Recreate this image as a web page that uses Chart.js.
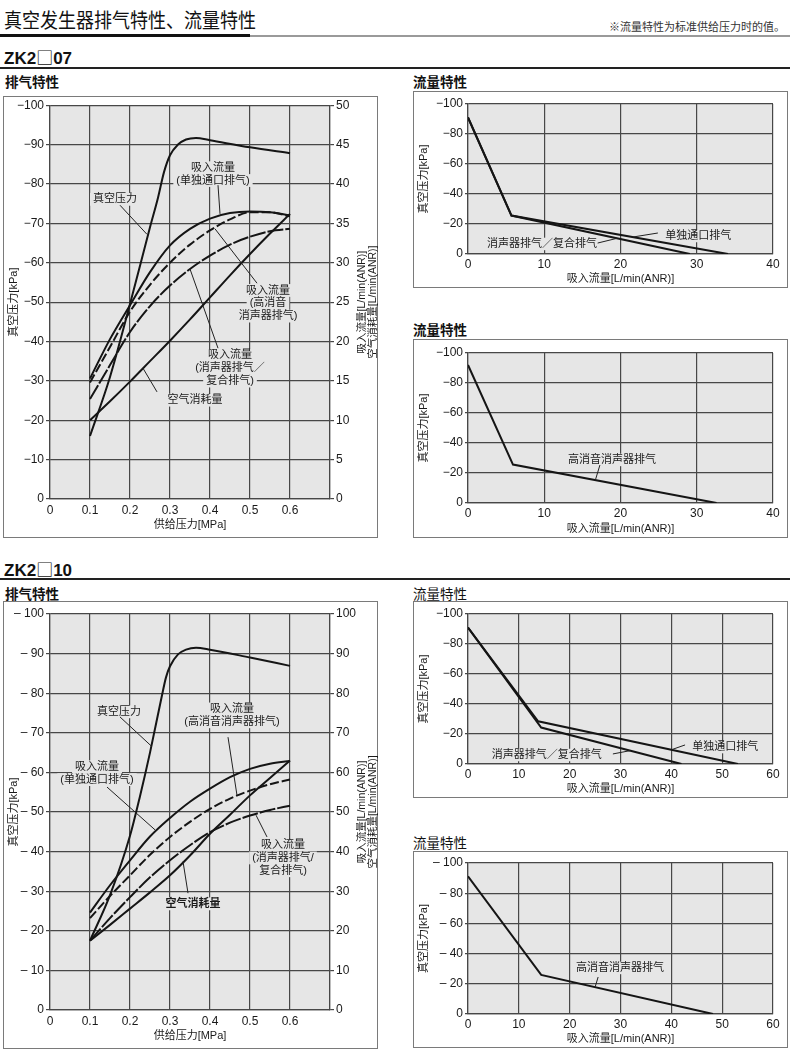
<!DOCTYPE html>
<html><head><meta charset="utf-8">
<script src="https://cdn.jsdelivr.net/npm/chart.js@4.4.1/dist/chart.umd.min.js"></script>
<style>
body{margin:0;width:790px;height:1053px;position:relative;background:#fff;font-family:'Noto Sans CJK SC',sans-serif;overflow:hidden;color:#111}
.t{position:absolute;white-space:nowrap}
.box{position:absolute;border:1px solid #7a7a7a;box-sizing:border-box}
.box canvas{position:absolute;left:-1px;top:-1px}
.sq{font-family:'Noto Sans CJK SC';font-weight:normal;font-size:17px}
</style></head>
<body>
<div class="t" style="left:4px;top:4px;font-size:18px;transform:scale(1,1.12);transform-origin:left top;">真空发生器排气特性、流量特性</div>
<div class="t" style="right:5px;top:18px;font-size:11px;color:#333;">※流量特性为标准供给压力时的值。</div>
<div class="t" style="left:0;top:34px;width:250px;height:3px;background:#111"></div>
<div class="t" style="left:250px;top:35px;width:540px;height:2px;background:#9a9a9a"></div>

<div class="t" style="left:4px;top:44px;font-size:17px;font-weight:bold;font-family:'Liberation Sans','Noto Sans CJK SC';">ZK2<span class="sq">□</span>07</div>
<div class="t" style="left:0;top:67px;width:790px;height:2px;background:#222"></div>
<div class="t" style="left:5px;top:71px;font-size:13.5px;font-weight:bold;">排气特性</div>
<div class="t" style="left:413px;top:71px;font-size:13.5px;font-weight:bold;">流量特性</div>
<div class="t" style="left:413px;top:319px;font-size:13.5px;font-weight:bold;">流量特性</div>

<div class="t" style="left:4px;top:556px;font-size:17px;font-weight:bold;font-family:'Liberation Sans','Noto Sans CJK SC';">ZK2<span class="sq">□</span>10</div>
<div class="t" style="left:0;top:578px;width:790px;height:2px;background:#222"></div>
<div class="t" style="left:5px;top:583px;font-size:13.5px;font-weight:bold;">排气特性</div>
<div class="t" style="left:413px;top:583px;font-size:13.5px;">流量特性</div>
<div class="t" style="left:413px;top:832px;font-size:13.5px;">流量特性</div>

<div class="box" style="left:3px;top:96px;width:375px;height:442px"><canvas id="c1" width="375" height="442"></canvas></div>
<div class="box" style="left:413px;top:91px;width:375px;height:197px"><canvas id="c3" width="375" height="197"></canvas></div>
<div class="box" style="left:413px;top:339px;width:375px;height:199px"><canvas id="c4" width="375" height="199"></canvas></div>
<div class="box" style="left:3px;top:601px;width:375px;height:448px"><canvas id="c2" width="375" height="448"></canvas></div>
<div class="box" style="left:413px;top:601px;width:375px;height:197px"><canvas id="c5" width="375" height="197"></canvas></div>
<div class="box" style="left:413px;top:851px;width:375px;height:197px"><canvas id="c6" width="375" height="197"></canvas></div>

<script>
// ---------- DATA ----------
// supply pressure [MPa] for flow / air consumption curves
const supplyPressure = [0.1, 0.15, 0.2, 0.25, 0.3, 0.35, 0.4, 0.45, 0.5, 0.55, 0.6];

// ZK2□07 exhaust characteristics
const vac07X = [0.1, 0.15, 0.2, 0.25, 0.27, 0.285, 0.3, 0.32, 0.34, 0.365, 0.4, 0.5, 0.6];
const vac07Y = [-16, -31, -49.5, -69, -76.5, -83, -87.3, -90, -91.3, -91.7, -91.1, -89.3, -87.8];
const flowSingle07 = [15.3, 20.3, 24.6, 28.8, 32.2, 34.3, 35.6, 36.3, 36.5, 36.4, 36.0];
const flowHighSil07 = [14.8, 19.3, 23.8, 27.2, 30.0, 32.3, 34.1, 35.5, 36.4, 36.4, 35.9];
const flowSil07 = [12.7, 17.0, 21.2, 24.5, 27.1, 29.2, 30.9, 32.3, 33.3, 34.0, 34.3];
const airCons07 = [10.0, 12.4, 14.9, 17.5, 20.1, 22.8, 25.6, 28.4, 31.1, 33.7, 36.2];

// ZK2□10 exhaust characteristics
const vac10X = [0.1, 0.15, 0.2, 0.225, 0.25, 0.28, 0.29, 0.3, 0.32, 0.34, 0.365, 0.4, 0.5, 0.6];
const vac10Y = [-17.5, -29, -44, -54, -65, -79.5, -84, -86.8, -89.8, -91, -91.5, -91, -89, -86.9];
const flowSingle10 = [24.6, 31.5, 37.8, 43.8, 48.5, 52.6, 55.9, 58.8, 60.9, 62.2, 62.9];
const flowHighSil10 = [23.2, 28.8, 34.0, 39.2, 43.7, 47.5, 50.8, 53.4, 55.4, 57.0, 58.2];
const flowSil10 = [17.5, 23.2, 28.5, 33.5, 37.8, 41.6, 44.9, 47.3, 49.1, 50.5, 51.6];
const airCons10 = [17.5, 21.5, 25.6, 29.7, 34.0, 39.0, 44.5, 49.3, 54.2, 58.6, 63.0];

// flow characteristics (suction flow [L/min(ANR)] vs vacuum [kPa])
const fc07SingleX = [0, 5.7, 34.1];  const fc07SingleY = [-91, -25.6, 0];
const fc07SilX = [0, 5.7, 29.1];     const fc07SilY = [-91, -25.6, 0];
const fc07HighX = [0, 5.9, 32.6];    const fc07HighY = [-92, -25.6, 0];
const fc10SingleX = [0, 13.8, 53.1]; const fc10SingleY = [-91, -28.5, 0];
const fc10SilX = [0, 14.4, 42.0];    const fc10SilY = [-91, -24.3, 0];
const fc10HighX = [0, 14.4, 48.2];   const fc10HighY = [-91.2, -25.9, 0];

// tick ranges
const supplyTicks = [0, 0.1, 0.2, 0.3, 0.4, 0.5, 0.6];
const flowAxis07Max = 40, flowAxis10Max = 60;

// annotation texts
const ann07Texts = [['真空压力'], ['吸入流量', '(单独通口排气)'], ['吸入流量', '(高消音', '消声器排气)'], ['吸入流量', '(消声器排气／', '复合排气)'], ['空气消耗量']];
const ann10Texts = [['真空压力'], ['吸入流量', '(高消音消声器排气)'], ['吸入流量', '(单独通口排气)'], ['吸入流量', '(消声器排气/', '复合排气)'], ['空气消耗量']];
const fc07Texts = [['单独通口排气'], ['消声器排气／复合排气']];
const fcHighTexts = [['高消音消声器排气']];
const rightAxisTitle = ['吸入流量[L/min(ANR)]', '空气消耗量[L/min(ANR)]'];

// ---------- RENDERING ----------
const PLOT_BG = '#e6e6e6', GRID = '#474747', INK = '#151515';
const NUM_FONT = "'Liberation Sans', Arial, sans-serif";
const MIX_FONT = "'Liberation Sans', 'Noto Sans CJK SC', sans-serif";

const pts = (xs, ys) => xs.map((x, i) => ({x, y: ys[i]}));

const bgPlugin = {
  id: 'plotbg',
  beforeDraw(chart) {
    const a = chart.chartArea, ctx = chart.ctx;
    ctx.save(); ctx.fillStyle = PLOT_BG;
    ctx.fillRect(a.left, a.top, a.right - a.left, a.bottom - a.top);
    ctx.restore();
  }
};

function annLayout(chart, it) {
  const xs = chart.scales.x, ys = chart.scales.y;
  return {cx: xs.getPixelForValue(it.at[0]), cy: ys.getPixelForValue(it.at[1])};
}

const annPlugin = {
  id: 'ann',
  beforeDatasetsDraw(chart, args, opts) {
    const ctx = chart.ctx; ctx.save();
    (opts.items || []).forEach(it => {
      const {cx, cy} = annLayout(chart, it);
      ctx.font = (it.bold ? 'bold ' : '') + (opts.size || 11) + 'px ' + MIX_FONT;
      const lh = opts.lh || 12.5;
      const n = it.text.length;
      it.text.forEach((t, i) => {
        const w = ctx.measureText(t).width;
        const y = cy + (i - (n - 1) / 2) * lh;
        ctx.fillStyle = PLOT_BG;
        ctx.fillRect(cx - w / 2 - 3, y - lh / 2, w + 6, lh);
      });
    });
    ctx.restore();
  },
  afterDatasetsDraw(chart, args, opts) {
    const ctx = chart.ctx, xs = chart.scales.x, ys = chart.scales.y; ctx.save();
    (opts.items || []).forEach(it => {
      if (it.lead) {
        ctx.strokeStyle = '#222'; ctx.lineWidth = 1;
        ctx.beginPath();
        ctx.moveTo(xs.getPixelForValue(it.lead[0]), ys.getPixelForValue(it.lead[1]));
        ctx.lineTo(xs.getPixelForValue(it.lead[2]), ys.getPixelForValue(it.lead[3]));
        ctx.stroke();
      }
      const {cx, cy} = annLayout(chart, it);
      ctx.font = (it.bold ? 'bold ' : '') + (opts.size || 11) + 'px ' + MIX_FONT;
      ctx.fillStyle = '#1a1a1a'; ctx.textAlign = 'center'; ctx.textBaseline = 'middle';
      const lh = opts.lh || 12.5, n = it.text.length;
      it.text.forEach((t, i) => ctx.fillText(t, cx, cy + (i - (n - 1) / 2) * lh));
    });
    if (opts.rightTitle) {
      const a = chart.chartArea;
      ctx.font = '10.5px ' + MIX_FONT; ctx.fillStyle = '#1a1a1a';
      ctx.textAlign = 'center'; ctx.textBaseline = 'middle';
      opts.rightTitle.forEach((t, i) => {
        ctx.save();
        ctx.translate(a.right + 32 + i * 11.5, (a.top + a.bottom) / 2);
        ctx.rotate(-Math.PI / 2);
        ctx.fillText(t, 0, 0);
        ctx.restore();
      });
    }
    ctx.restore();
  }
};

function curve(data, axis, dash) {
  return {data, yAxisID: axis, borderColor: INK, borderWidth: 2, pointRadius: 0,
          borderDash: dash || [], cubicInterpolationMode: 'monotone', fill: false};
}
function poly(data) {
  return {data, yAxisID: 'y', borderColor: INK, borderWidth: 2, pointRadius: 0, tension: 0, fill: false};
}

function exhaustChart(id, vacData, flows, flowMax, flowStep, leftPrefix, top, annItems) {
  new Chart(document.getElementById(id), {
    type: 'line',
    data: {datasets: [
      curve(vacData, 'y'),
      curve(flows[0], 'y2'),
      curve(flows[1], 'y2', [9, 3]),
      curve(flows[2], 'y2', [16, 2]),
      curve(flows[3], 'y2')
    ]},
    options: {
      responsive: false, animation: false, devicePixelRatio: 1,
      layout: {padding: {top: top, right: 0, left: 0, bottom: 0}},
      plugins: {legend: {display: false}, tooltip: {enabled: false},
        ann: {items: annItems, size: 11, lh: 12.8, rightTitle: rightAxisTitle}},
      scales: {
        x: {type: 'linear', min: 0, max: 0.7,
          afterBuildTicks: s => { s.ticks = supplyTicks.concat([0.7]).map(v => ({value: v})); },
          afterFit: s => { s.height = 39; },
          grid: {color: GRID, lineWidth: 1.2, drawTicks: false},
          border: {color: GRID, width: 1.2},
          ticks: {padding: 4, autoSkip: false, maxRotation: 0, color: '#1a1a1a',
            font: {family: NUM_FONT, size: 12},
            callback: v => (Math.abs(v - 0.7) < 1e-6 ? '' : (v === 0 ? '0' : v.toFixed(1)))},
          title: {display: true, text: '供给压力[MPa]', color: '#1a1a1a',
            font: {family: MIX_FONT, size: 11}, padding: {top: 0, bottom: 6}}
        },
        y: {type: 'linear', position: 'left', min: -100, max: 0, reverse: true,
          afterFit: s => { s.width = 47; },
          grid: {color: GRID, lineWidth: 1.2, tickLength: 4},
          border: {color: GRID, width: 1.2},
          ticks: {stepSize: 10, padding: 2, color: '#1a1a1a', font: {family: NUM_FONT, size: 12},
            callback: v => (v === 0 ? '0' : leftPrefix + Math.abs(v))},
          title: {display: true, text: '真空压力[kPa]', color: '#1a1a1a',
            font: {family: MIX_FONT, size: 11}, padding: {top: 4, bottom: 0}}
        },
        y2: {type: 'linear', position: 'right', min: 0, max: flowMax,
          afterFit: s => { s.width = 48; },
          grid: {drawOnChartArea: false, color: GRID, lineWidth: 1.2, tickLength: 4},
          border: {color: GRID, width: 1.2},
          ticks: {stepSize: flowStep, padding: 2, color: '#1a1a1a', font: {family: NUM_FONT, size: 12}}
        }
      }
    },
    plugins: [bgPlugin, annPlugin]
  });
}

function flowChart(id, datasets, xMax, top, bottom, leftPrefix, annItems) {
  new Chart(document.getElementById(id), {
    type: 'line',
    data: {datasets: datasets.map(poly)},
    options: {
      responsive: false, animation: false, devicePixelRatio: 1,
      layout: {padding: {top: top, right: 15, left: 0, bottom: 0}},
      plugins: {legend: {display: false}, tooltip: {enabled: false}, ann: {items: annItems, size: 11, lh: 12.5}},
      scales: {
        x: {type: 'linear', min: 0, max: xMax,
          afterFit: s => { s.height = bottom; },
          grid: {color: GRID, lineWidth: 1.2, drawTicks: false},
          border: {color: GRID, width: 1.2},
          ticks: {stepSize: 10, padding: 3, autoSkip: false, maxRotation: 0, color: '#1a1a1a',
            font: {family: NUM_FONT, size: 12}},
          title: {display: true, text: '吸入流量[L/min(ANR)]', color: '#1a1a1a',
            font: {family: MIX_FONT, size: 11}, padding: {top: 0, bottom: 2}}
        },
        y: {type: 'linear', min: -100, max: 0, reverse: true,
          afterFit: s => { s.width = 55; },
          grid: {color: GRID, lineWidth: 1.2, tickLength: 3},
          border: {color: GRID, width: 1.2},
          ticks: {stepSize: 20, padding: 2, color: '#1a1a1a', font: {family: NUM_FONT, size: 12},
            callback: v => (v === 0 ? '0' : leftPrefix + Math.abs(v))},
          title: {display: true, text: '真空压力[kPa]', color: '#1a1a1a',
            font: {family: MIX_FONT, size: 11}, padding: {top: 4, bottom: 0}}
        }
      }
    },
    plugins: [bgPlugin, annPlugin]
  });
}

// ZK2□07 exhaust characteristics
exhaustChart('c1', pts(vac07X, vac07Y),
  [pts(supplyPressure, flowSingle07), pts(supplyPressure, flowHighSil07), pts(supplyPressure, flowSil07), pts(supplyPressure, airCons07)],
  50, 5, '\u2212', 9, [
    {text: ann07Texts[0], at: [0.1625, -76.1], lead: [0.175, -74.6, 0.2425, -67.2]},
    {text: ann07Texts[1], at: [0.4075, -82.5], lead: [0.42, -79.7, 0.425, -72.4]},
    {text: ann07Texts[2], at: [0.545, -49.7], lead: [0.5175, -54.8, 0.4125, -68.6]},
    {text: ann07Texts[3], at: [0.45, -33.2], lead: [0.42, -38.3, 0.35, -58.4]},
    {text: ann07Texts[4], at: [0.3625, -25.1], lead: [0.2675, -27.2, 0.2325, -33.2]}
  ]);

// ZK2□10 exhaust characteristics
exhaustChart('c2', pts(vac10X, vac10Y),
  [pts(supplyPressure, flowSingle10), pts(supplyPressure, flowHighSil10), pts(supplyPressure, flowSil10), pts(supplyPressure, airCons10)],
  100, 10, '\u2013 ', 13, [
    {text: ann10Texts[0], at: [0.1725, -75.3], lead: [0.175, -74.0, 0.255, -66.5]},
    {text: ann10Texts[1], at: [0.455, -74.4], lead: [0.445, -68.9, 0.4675, -54.2]},
    {text: ann10Texts[2], at: [0.1175, -59.8], lead: [0.1425, -56.3, 0.2625, -45.5]},
    {text: ann10Texts[3], at: [0.5825, -38.4], lead: [0.5425, -43.7, 0.515, -49.2]},
    {text: ann10Texts[4], at: [0.3575, -26.8], bold: true, lead: [0.345, -29.5, 0.3325, -37.5]}
  ]);

// flow characteristics
flowChart('c3', [pts(fc07SingleX, fc07SingleY), pts(fc07SilX, fc07SilY)], flowAxis07Max, 13, 34, '\u2212', [
  {text: fc07Texts[0], at: [30.2, -12], lead: [24.9, -14, 21.6, -11.3]},
  {text: fc07Texts[1], at: [9.7, -6.7], lead: [17.0, -7.3, 19.5, -10.4]}
]);
flowChart('c4', [pts(fc07HighX, fc07HighY)], flowAxis07Max, 14, 35, '\u2212', [
  {text: fcHighTexts[0], at: [18.9, -28.7], lead: [17.3, -25.3, 16.7, -15.2]}
]);
flowChart('c5', [pts(fc10SingleX, fc10SingleY), pts(fc10SilX, fc10SilY)], flowAxis10Max, 13, 34, '\u2212', [
  {text: fc07Texts[0], at: [50.6, -11.3], lead: [42.7, -12.7, 40.1, -9.6]},
  {text: fc07Texts[1], at: [15.5, -6], lead: [28.5, -6.7, 31.9, -8.9]}
]);
flowChart('c6', [pts(fc10HighX, fc10HighY)], flowAxis10Max, 12, 34, '\u2013 ', [
  {text: fcHighTexts[0], at: [29.9, -30.5], lead: [25.6, -24.5, 25.0, -17.8]}
]);
</script>
</body></html>
